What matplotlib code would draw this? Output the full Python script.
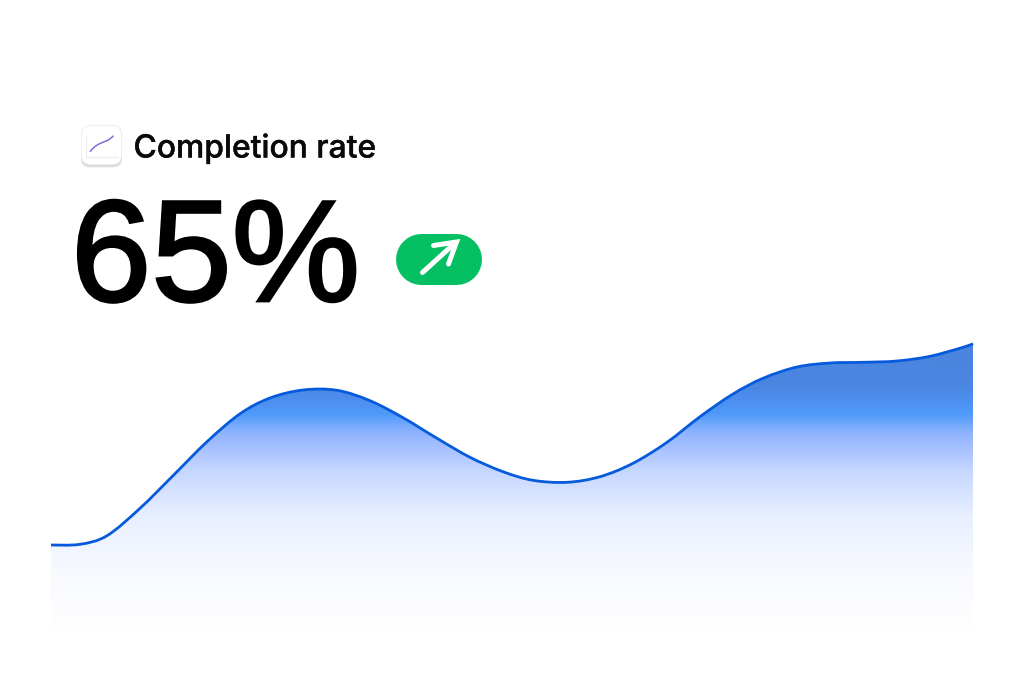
import numpy as np
import matplotlib
matplotlib.use('Agg')
import matplotlib.pyplot as plt
import matplotlib.patheffects as pe
from matplotlib.colors import LinearSegmentedColormap
from matplotlib.patches import FancyBboxPatch, PathPatch
from matplotlib.path import Path

title = 'Completion rate'
big_number = '65%'

# curve: x from left end of the area, value above the baseline
curve_x = [0, 29, 56, 89, 122, 156, 189, 219, 252, 286, 319, 352, 386, 419, 452, 482, 516,
           549, 582, 616, 649, 682, 712, 746, 779, 812, 846, 879, 912, 922]
curve_y = [87, 87.7, 96.3, 123.7, 156.3, 190.3, 218.2, 234, 242, 241.7, 231.3, 214.3, 193.7,
           174.7, 160.3, 151.7, 149.7, 155.3, 168.7, 189.7, 215.3, 238, 253.7, 265, 269,
           269.7, 271, 275.7, 284.7, 288.3]

# icon sparkline, header axes units
icon_x = [90, 95, 101.7, 108.3, 113.5]
icon_y = [151.7, 146.5, 142.7, 140, 135.7]

grad_pos = [0, 0.145, 0.2, 0.246, 0.31, 0.37, 0.44, 0.6, 0.8, 1]
grad_col = ['#4a84de', '#4a86e2', '#4d8ff0', '#4f9bfa', '#8fb3fe', '#a9c2ff', '#c5d6ff',
            '#e8efff', '#f8faff', '#ffffff']


def smooth_path(xs, ys):
    # catmull-rom through the read points, as bezier segments
    pts = np.column_stack([xs, ys])
    verts = [pts[0]]
    codes = [Path.MOVETO]
    for i in range(len(pts) - 1):
        p0 = pts[max(i - 1, 0)]
        p1 = pts[i]
        p2 = pts[i + 1]
        p3 = pts[min(i + 2, len(pts) - 1)]
        verts += [p1 + (p2 - p0) / 6, p2 - (p3 - p1) / 6, p2]
        codes += [Path.CURVE4] * 3
    return verts, codes


fig = plt.figure(figsize=(10.24, 6.98), dpi=100, facecolor='white')

# chart axes, the area only
ax = fig.add_axes([51 / 1024, (698 - 632) / 698, 922 / 1024, 289 / 698])
ax.set_xlim(0, 922)
ax.set_ylim(0, 289)
ax.axis('off')
cmap = LinearSegmentedColormap.from_list('area', list(zip(grad_pos, grad_col)), N=512)
img = ax.imshow(np.linspace(0, 1, 512).reshape(-1, 1), cmap=cmap, aspect='auto',
                extent=[0, 922, 0, 289], origin='upper', interpolation='bilinear')
verts, codes = smooth_path(curve_x, curve_y)
area = PathPatch(Path(verts + [(922, 0), (0, 0), verts[0]],
                      codes + [Path.LINETO, Path.LINETO, Path.CLOSEPOLY]),
                 facecolor='none', edgecolor='none')
ax.add_patch(area)
img.set_clip_path(area)
ax.add_patch(PathPatch(Path(verts, codes), facecolor='none', edgecolor='#055bdc', lw=2.0,
                       capstyle='butt', clip_on=False))

# header overlay in pixel units
top = fig.add_axes([0, 0, 1, 1], facecolor='none')
top.set_xlim(0, 1024)
top.set_ylim(698, 0)
top.axis('off')

for off, alpha in [(3.0, 0.10), (2.0, 0.14), (1.0, 0.18)]:
    top.add_patch(FancyBboxPatch((87, 131 + off), 29, 28, boxstyle='round,pad=6,rounding_size=9',
                                 fc='#8a8a8a', ec='none', alpha=alpha))
top.add_patch(FancyBboxPatch((87, 131), 29, 28, boxstyle='round,pad=5.5,rounding_size=9',
                             fc='white', ec='#efeff2', lw=0.8))
top.plot([86, 86, 117], [136, 157, 157], color='#f0eff4', lw=1)
vi, ci = smooth_path(icon_x, icon_y)
top.add_patch(PathPatch(Path(vi, ci), facecolor='none', edgecolor='#7f6fd6', lw=1.1))

top.text(133.5, 157.5, title, family='Inter', fontweight='medium', fontsize=22.9, color='#0a0a0a',
         ha='left', va='baseline',
         path_effects=[pe.withStroke(linewidth=0.25, foreground='#0a0a0a')])
top.text(71, 301, big_number, family='Liberation Sans', fontsize=104, color='black',
         ha='left', va='baseline',
         path_effects=[pe.withStroke(linewidth=2.0, foreground='black', joinstyle='miter')])

# green badge, thick round-capped line gives a true stadium
top.plot([421, 456], [258.5, 258.5], color='#05bf63', lw=51 * 0.72, solid_capstyle='round')
top.plot([422.5, 455], [272.5, 243], color='white', lw=3.6, solid_capstyle='round')
top.plot([433.5, 456.5, 448.5], [245.5, 242, 264], color='white', lw=3.6,
         solid_capstyle='round', solid_joinstyle='miter')

fig.savefig('out.png', dpi=100, facecolor='white')
